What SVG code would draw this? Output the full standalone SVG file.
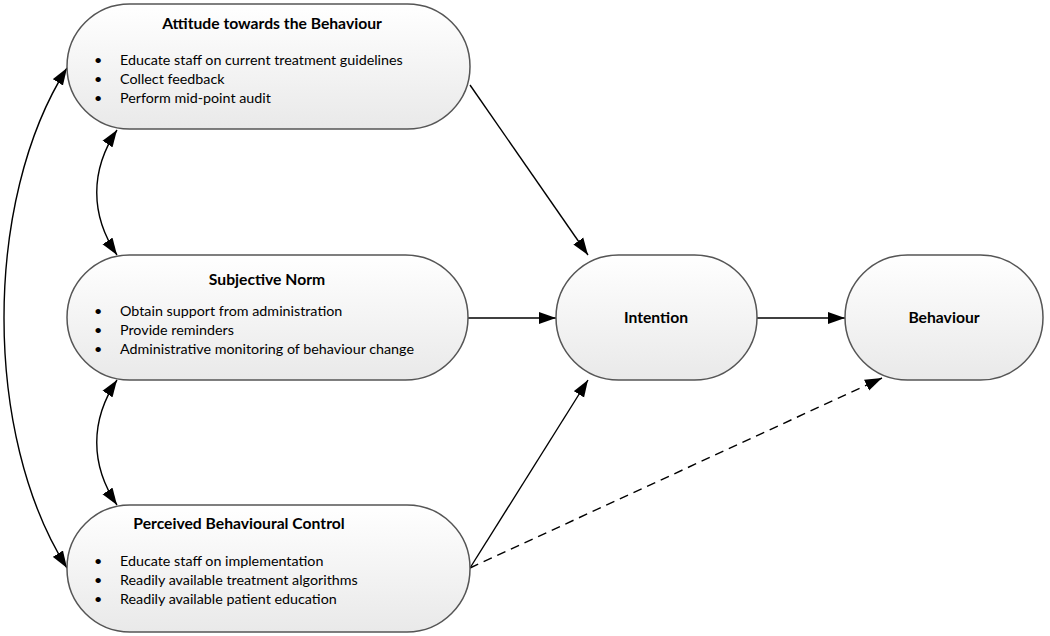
<svg xmlns="http://www.w3.org/2000/svg" width="1050" height="636" viewBox="0 0 1050 636">
<defs>
<linearGradient id="g" x1="0" y1="0" x2="0" y2="1">
<stop offset="0" stop-color="#ffffff"/>
<stop offset="1" stop-color="#e9e9e9"/>
</linearGradient>
<marker id="ah" markerUnits="userSpaceOnUse" markerWidth="18" markerHeight="13" refX="17" refY="6.5" orient="auto-start-reverse">
<path d="M0,0.5 L17,6.5 L0,12.5 z" fill="#000"/>
</marker>
</defs>
<style>
.node{fill:url(#g);stroke:#555;stroke-width:1.5}
.t{font-family:Lato,"Liberation Sans",sans-serif;fill:#000}
.h{font-weight:bold;font-size:15.7px;text-anchor:middle}
.b{font-size:14.3px}
.c{fill:none;stroke:#000;stroke-width:1.4}
.d{stroke-dasharray:9 6}
</style>
<rect width="1050" height="636" fill="#fff"/>
<g id="connectors">
<path class="c" d="M67,68 C-17,200 -17,436 67,568" marker-start="url(#ah)" marker-end="url(#ah)"/>
<path class="c" d="M117,130 C90,170 90,215 117,255" marker-start="url(#ah)" marker-end="url(#ah)"/>
<path class="c" d="M117,380 C90,420 90,465 117,505" marker-start="url(#ah)" marker-end="url(#ah)"/>
<path class="c" d="M470,85 L588,255" marker-end="url(#ah)"/>
<path class="c" d="M468,318 L556,318" marker-end="url(#ah)"/>
<path class="c" d="M470,568 L588,380" marker-end="url(#ah)"/>
<path class="c" d="M757,318 L845,318" marker-end="url(#ah)"/>
<path class="c d" d="M470,568 L882,378" marker-end="url(#ah)"/>
</g>
<g id="attitude">
<rect class="node" x="67" y="4" width="403" height="125" rx="62.5"/>
<text class="t h" x="272" y="29">Attitude towards the Behaviour</text>
<text class="t b" x="94" y="65">•</text><text class="t b" x="120" y="65">Educate staff on current treatment guidelines</text>
<text class="t b" x="94" y="84">•</text><text class="t b" x="120" y="84">Collect feedback</text>
<text class="t b" x="94" y="103">•</text><text class="t b" x="120" y="103">Perform mid-point audit</text>
</g>
<g id="subjective-norm">
<rect class="node" x="67" y="255" width="401" height="125" rx="62.5"/>
<text class="t h" x="267" y="285">Subjective Norm</text>
<text class="t b" x="94" y="316">•</text><text class="t b" x="120" y="316">Obtain support from administration</text>
<text class="t b" x="94" y="335">•</text><text class="t b" x="120" y="335">Provide reminders</text>
<text class="t b" x="94" y="354">•</text><text class="t b" x="120" y="354">Administrative monitoring of behaviour change</text>
</g>
<g id="pbc">
<rect class="node" x="67" y="505" width="403" height="127" rx="63"/>
<text class="t h" x="239" y="529">Perceived Behavioural Control</text>
<text class="t b" x="94" y="566">•</text><text class="t b" x="120" y="566">Educate staff on implementation</text>
<text class="t b" x="94" y="585">•</text><text class="t b" x="120" y="585">Readily available treatment algorithms</text>
<text class="t b" x="94" y="604">•</text><text class="t b" x="120" y="604">Readily available patient education</text>
</g>
<g id="intention">
<rect class="node" x="556" y="255" width="201" height="125" rx="62.5"/>
<text class="t h" x="656" y="323">Intention</text>
</g>
<g id="behaviour">
<rect class="node" x="845" y="255" width="198" height="125" rx="62.5"/>
<text class="t h" x="944" y="323">Behaviour</text>
</g>
</svg>
